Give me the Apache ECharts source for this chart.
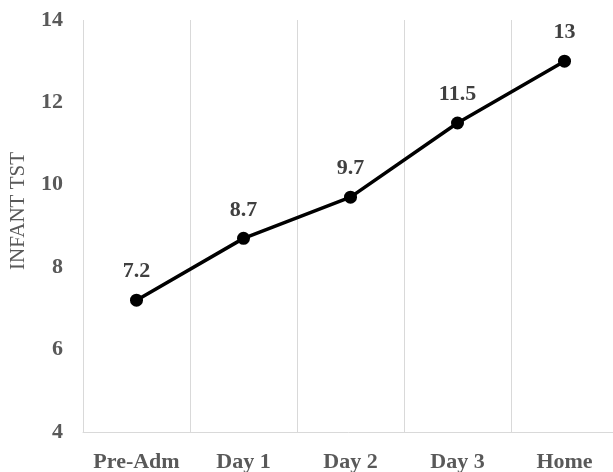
<!DOCTYPE html>
<html>
<head>
<meta charset="utf-8">
<script src="https://cdn.jsdelivr.net/npm/echarts@6/dist/echarts.min.js"></script>
<style>
  html, body { margin: 0; padding: 0; background: #fff; }
  #chart { width: 613px; height: 472px; }
</style>
</head>
<body>
<div id="chart"></div>
<script>
// Infant total sleep time across stages
const categories = ['Pre-Adm', 'Day 1', 'Day 2', 'Day 3', 'Home'];
const tstValues = [7.2, 8.7, 9.7, 11.5, 13];
const yTicks = { min: 4, max: 14, interval: 2 };

const serif = '"Liberation Serif", "Times New Roman", serif';

const chart = echarts.init(document.getElementById('chart'));
chart.setOption({
  animation: false,
  grid: { left: 83, right: -5, top: 20, bottom: 40, outerBoundsMode: 'none', containLabel: false },
  xAxis: {
    type: 'category',
    data: categories,
    boundaryGap: true,
    axisLine: { lineStyle: { color: '#d9d9d9', width: 1 } },
    axisTick: { show: false },
    axisLabel: {
      interval: 0,
      margin: 19,
      color: '#595959',
      fontFamily: serif,
      fontWeight: 'bold',
      fontSize: 22
    },
    splitLine: { show: true, interval: 0, lineStyle: { color: '#d9d9d9', width: 1 } }
  },
  yAxis: {
    type: 'value',
    min: yTicks.min,
    max: yTicks.max,
    interval: yTicks.interval,
    name: 'INFANT TST',
    nameLocation: 'middle',
    nameGap: 54,
    nameTextStyle: {
      color: '#595959',
      fontFamily: serif,
      fontSize: 21,
      padding: [0, 0, 0, 30]
    },
    axisLine: { show: false },
    axisTick: { show: false },
    splitLine: { show: false },
    axisLabel: {
      margin: 20,
      color: '#595959',
      fontFamily: serif,
      fontWeight: 'bold',
      fontSize: 22
    }
  },
  series: [{
    type: 'line',
    data: tstValues,
    symbol: 'circle',
    symbolSize: 13,
    lineStyle: { color: '#000', width: 3.5 },
    itemStyle: { color: '#000' },
    label: {
      show: true,
      position: 'top',
      distance: 11,
      color: '#404040',
      fontFamily: serif,
      fontWeight: 'bold',
      fontSize: 22
    }
  }]
});
</script>
</body>
</html>
